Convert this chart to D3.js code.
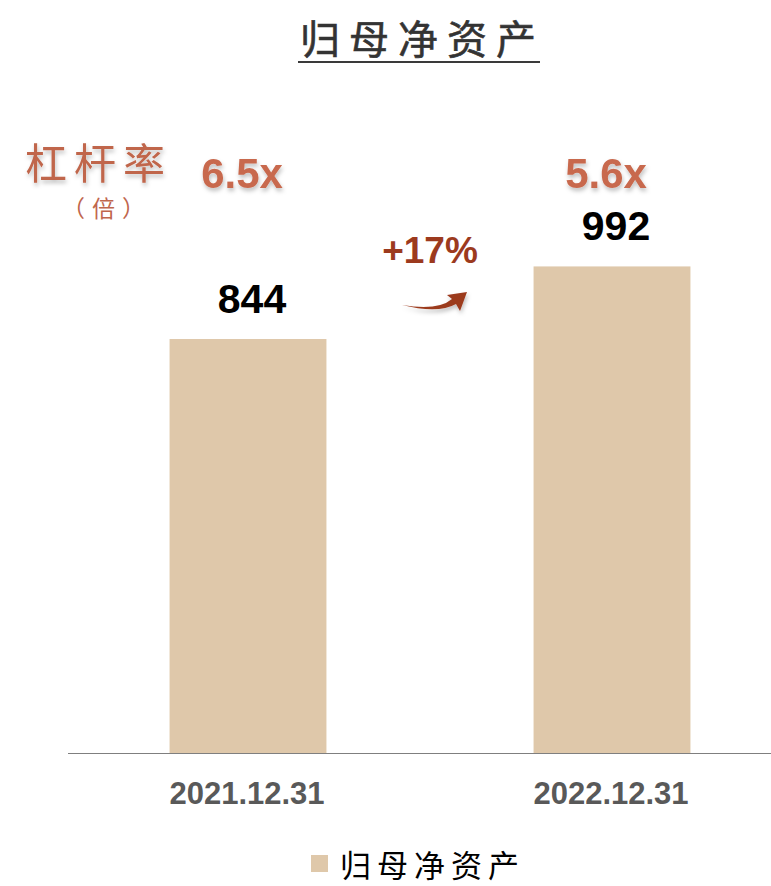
<!DOCTYPE html>
<html>
<head>
<meta charset="utf-8">
<script src="https://cdn.jsdelivr.net/npm/d3@7"></script>
<style>
  body { margin: 0; background: #fff; }
  svg { display: block; }
</style>
</head>
<body>
<div id="wrapper"></div>
<script>
// data
const dates = ["2021.12.31", "2022.12.31"]
const equity = [844, 992]
const leverage = ["6.5x", "5.6x"]
const growthLabel = "+17%"
const seriesName = "归母净资产"

const width = 771
const height = 886
const baseline = 753

const svg = d3.select("#wrapper").append("svg")
  .attr("width", width)
  .attr("height", height)

const defs = svg.append("defs")
const shadow = defs.append("filter").attr("id", "shadow")
  .attr("x", "-20%").attr("y", "-20%").attr("width", "140%").attr("height", "160%")
shadow.append("feDropShadow")
  .attr("dx", 1).attr("dy", 3).attr("stdDeviation", 2)
  .attr("flood-color", "#000").attr("flood-opacity", 0.25)

const cjk = "'Noto Sans CJK SC', 'Noto Sans', sans-serif"
const latin = "'Liberation Sans', Arial, sans-serif"

// scales
const x = d3.scaleBand()
  .domain(dates)
  .range([66, 794])
  .paddingInner(0.569)
  .paddingOuter(0.2845)

const y = d3.scaleLinear()
  .domain([0, 1200])
  .range([baseline, baseline - 1200 * 0.4905])

const cx = d => x(d) + x.bandwidth() / 2

// title
svg.append("text")
  .attr("x", 300).attr("y", 54)
  .attr("font-family", cjk)
  .attr("font-size", 40)
  .attr("fill", "#333")
  .attr("letter-spacing", 9)
  .attr("stroke", "#333").attr("stroke-width", 0.6)
  .text(seriesName)
svg.append("line")
  .attr("x1", 298).attr("x2", 540)
  .attr("y1", 62).attr("y2", 62)
  .attr("stroke", "#3a3a3a").attr("stroke-width", 2)

// bars
svg.selectAll(".bar")
  .data(equity)
  .join("rect")
  .attr("class", "bar")
  .attr("x", (d, i) => x(dates[i]))
  .attr("width", x.bandwidth())
  .attr("y", d => y(d))
  .attr("height", d => y(0) - y(d))
  .attr("fill", "#dfc8aa")

// axis line
svg.append("line")
  .attr("x1", 68).attr("x2", width)
  .attr("y1", baseline + 0.5).attr("y2", baseline + 0.5)
  .attr("stroke", "#7f7f7f").attr("stroke-width", 1)

// value labels
svg.selectAll(".val")
  .data(equity)
  .join("text")
  .attr("class", "val")
  .attr("x", (d, i) => cx(dates[i]) + 4)
  .attr("y", d => y(d) - 26)
  .attr("text-anchor", "middle")
  .attr("font-family", latin)
  .attr("font-weight", "bold")
  .attr("font-size", 41)
  .attr("fill", "#000")
  .text(d => d)

// x labels
svg.selectAll(".xlab")
  .data(dates)
  .join("text")
  .attr("class", "xlab")
  .attr("x", d => cx(d) - 1)
  .attr("y", 804)
  .attr("text-anchor", "middle")
  .attr("font-family", latin)
  .attr("font-weight", "bold")
  .attr("font-size", 31)
  .attr("fill", "#595959")
  .text(d => d)

// leverage row
svg.append("text")
  .attr("x", 25).attr("y", 179)
  .attr("font-family", cjk)
  .attr("font-size", 42)
  .attr("letter-spacing", 7)
  .attr("fill", "#c0664c")
  .attr("filter", "url(#shadow)")
  .text("杠杆率")
svg.append("text")
  .attr("x", 62).attr("y", 217)
  .attr("font-family", cjk)
  .attr("font-size", 23)
  .attr("letter-spacing", 7)
  .attr("fill", "#c0664c")
  .text("（倍）")

svg.selectAll(".lev")
  .data(leverage)
  .join("text")
  .attr("class", "lev")
  .attr("x", (d, i) => cx(dates[i]) - 6)
  .attr("y", 188)
  .attr("text-anchor", "middle")
  .attr("font-family", latin)
  .attr("font-weight", "bold")
  .attr("font-size", 42)
  .attr("fill", "#c8694e")
  .attr("filter", "url(#shadow)")
  .text(d => d)

// growth label + arrow
const midX = (x(dates[0]) + x.bandwidth() + x(dates[1])) / 2
svg.append("text")
  .attr("x", midX).attr("y", 263)
  .attr("text-anchor", "middle")
  .attr("font-family", latin)
  .attr("font-weight", "bold")
  .attr("font-size", 37)
  .attr("fill", "#9c3a1e")
  .text(growthLabel)

svg.append("path")
  .attr("d", `M${midX - 28},305 Q${midX + 8},311 ${midX + 22},299 L${midX + 17},295 L${midX + 37},292 L${midX + 30},311 L${midX + 26},304 Q${midX + 8},314 ${midX - 28},305 Z`)
  .attr("fill", "#9c3a1e")
  .attr("filter", "url(#shadow)")

// legend
svg.append("rect")
  .attr("x", 311).attr("y", 855)
  .attr("width", 17).attr("height", 17)
  .attr("fill", "#dfc8aa")
svg.append("text")
  .attr("x", 340).attr("y", 877)
  .attr("font-family", cjk)
  .attr("font-size", 31)
  .attr("letter-spacing", 6)
  .attr("fill", "#000")
  .text(seriesName)
</script>
</body>
</html>
